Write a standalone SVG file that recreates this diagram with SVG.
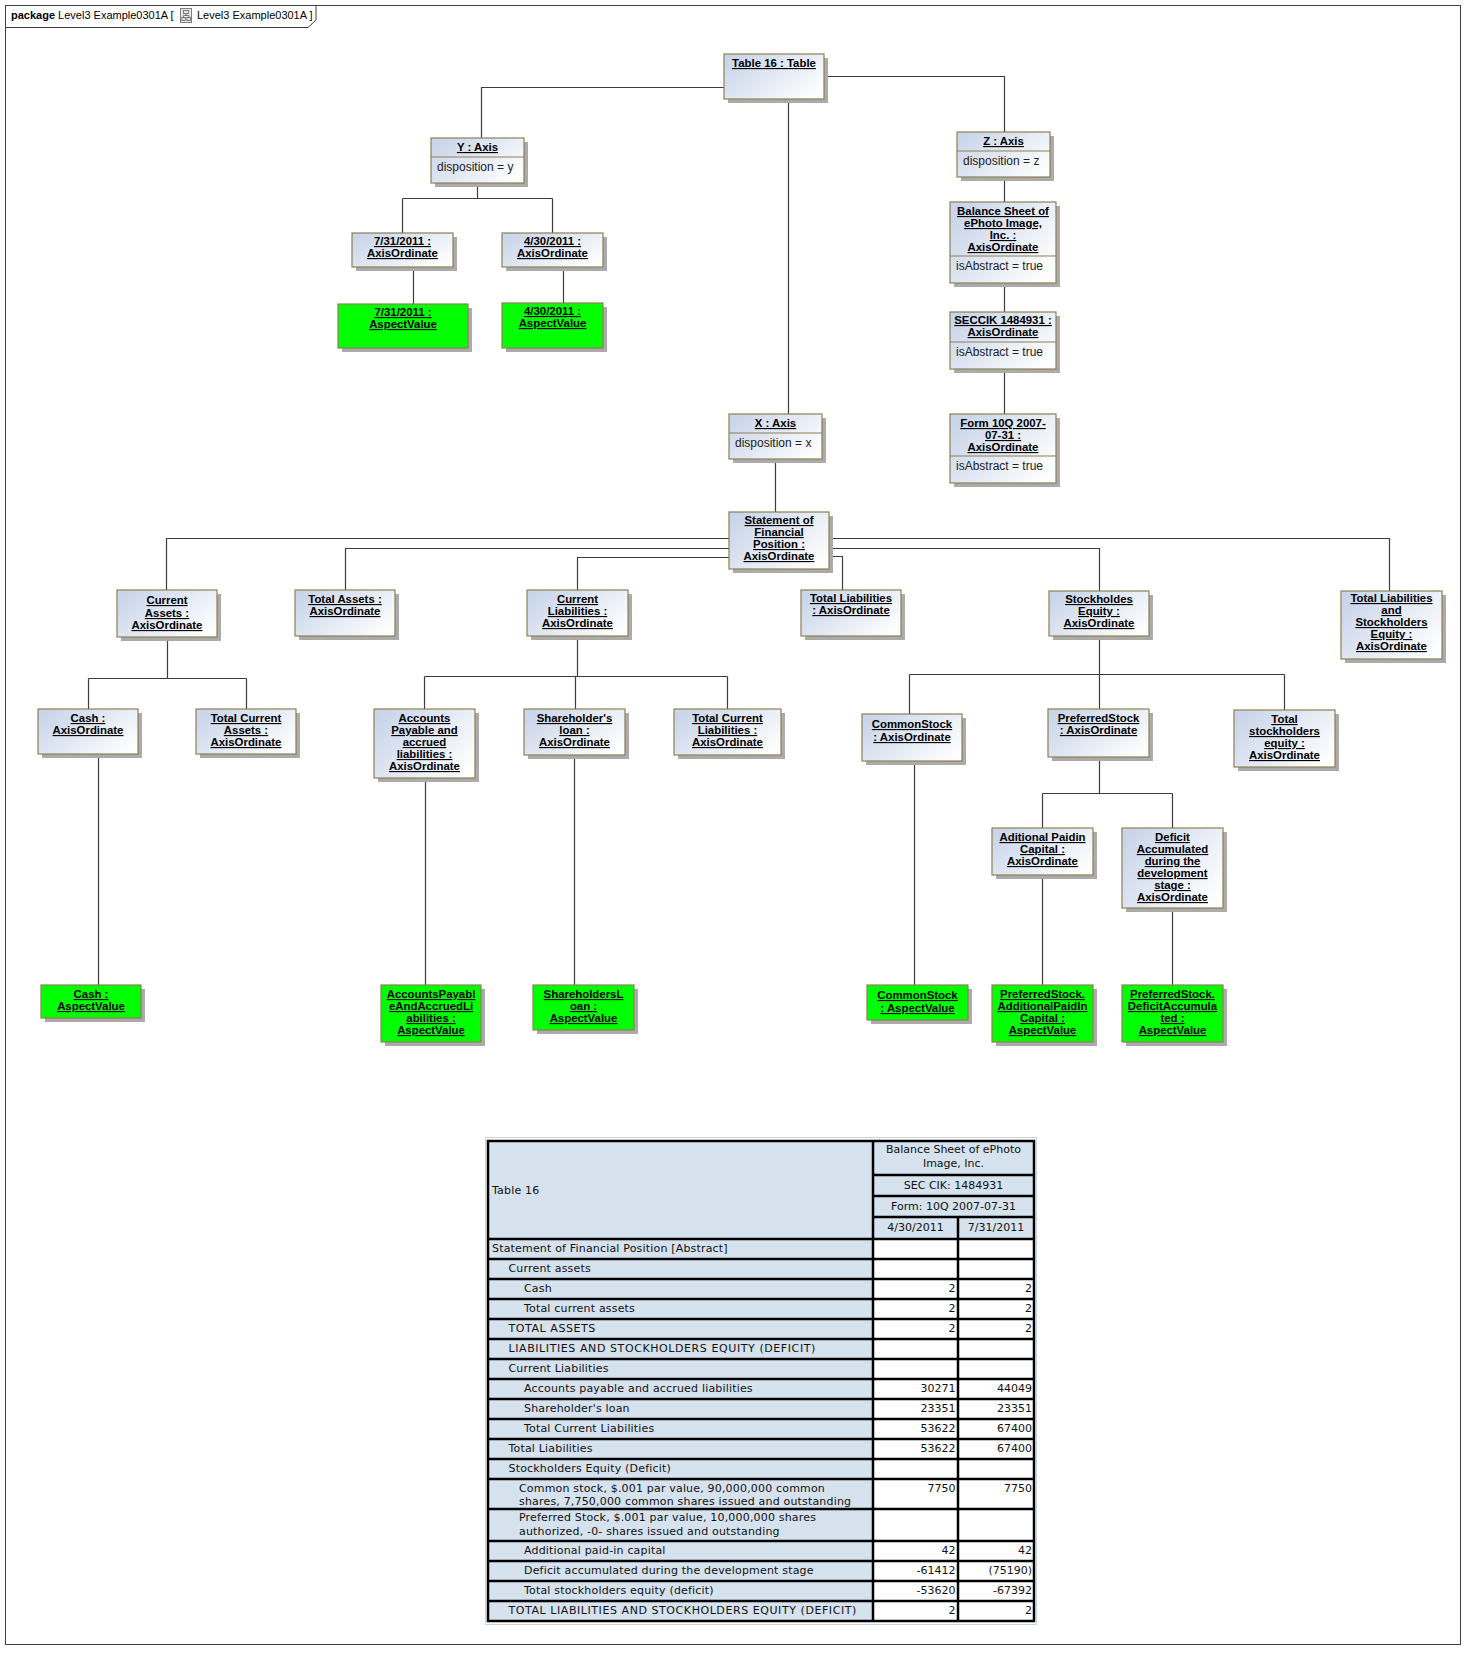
<svg xmlns="http://www.w3.org/2000/svg" width="1476" height="1660" viewBox="0 0 1476 1660">
<defs>
<linearGradient id="g" x1="0" y1="0.2" x2="1" y2="0.8">
<stop offset="0" stop-color="#C9D5EA"/>
<stop offset="1" stop-color="#FFFFFF"/>
</linearGradient>
<style>
.sh{fill:#ABABAB}
.bx{fill:url(#g);stroke:#8E8052;stroke-width:1.2}
.gr{fill:#00FF00;stroke:#8E8052;stroke-width:1.2}
.dv{stroke:#8E8052;stroke-width:1.2}
.t{font-family:"Liberation Sans",Arial,sans-serif;font-size:11.4px;font-weight:bold;text-decoration:underline;text-anchor:middle;fill:#000}
.a{font-family:"Liberation Sans",Arial,sans-serif;font-size:12px;fill:#222}
.c{fill:none;stroke:#3C3C3C;stroke-width:1.2}
.hd{font-family:"Liberation Sans",Arial,sans-serif;font-size:11px;fill:#000}
.tb{font-family:"DejaVu Sans",Verdana,sans-serif;font-size:11px;fill:#111;letter-spacing:0.18px}
.tn{font-family:"DejaVu Sans",Verdana,sans-serif;font-size:11px;fill:#111;text-anchor:end}
.tc{font-family:"DejaVu Sans",Verdana,sans-serif;font-size:11px;fill:#111;text-anchor:middle}
.lb{fill:#D6E2EE}
.wh{fill:#FFFFFF}
</style>
</defs>
<rect x="0" y="0" width="1476" height="1660" fill="#FFFFFF"/>

<!-- frame -->
<g id="frame">
<rect x="5.5" y="5.5" width="1455" height="1639" fill="none" stroke="#404040" stroke-width="1"/>
<path d="M5.5,27.5 H308 L316,20 V5.5" fill="none" stroke="#404040" stroke-width="1"/>
<text class="hd" x="11" y="19"><tspan font-weight="bold">package</tspan> Level3 Example0301A [</text>
<rect x="180.5" y="8.5" width="11" height="14" fill="#E8E8E8" stroke="#808080" stroke-width="1"/>
<rect x="183.5" y="10.5" width="5" height="3" fill="none" stroke="#606060" stroke-width="0.8"/>
<rect x="181.8" y="17.5" width="3.5" height="3" fill="none" stroke="#606060" stroke-width="0.8"/>
<rect x="187" y="17.5" width="3.5" height="3" fill="none" stroke="#606060" stroke-width="0.8"/>
<path d="M186,13.5 V15.5 M183.5,15.5 H189 M183.5,15.5 V17.5 M189,15.5 V17.5" stroke="#606060" stroke-width="0.8" fill="none"/>
<text class="hd" x="197" y="19">Level3 Example0301A ]</text>
</g>

<!-- connectors -->
<g id="connectors" class="c">
<path d="M724,87.5 H481.5 V138"/>
<path d="M824,76.5 H1004.5 V132"/>
<path d="M788.5,99 V414"/>
<path d="M477.5,183 V198.5 M402.5,198.5 H552.5 M402.5,198.5 V233 M552.5,198.5 V233"/>
<path d="M413.5,267 V304"/>
<path d="M563.5,267 V303"/>
<path d="M1004.5,177 V202 M1004.5,283 V312 M1004.5,369 V414"/>
<path d="M775.5,459 V512"/>
<path d="M729,538.5 H166.5 V590"/>
<path d="M729,548.5 H345.5 V590"/>
<path d="M729,557.5 H577.5 V590"/>
<path d="M829,538.5 H1389.5 V591"/>
<path d="M829,548.5 H1099.5 V591"/>
<path d="M829,556.5 H842.5 V590"/>
<path d="M167.5,637 V678.5 M88.5,678.5 H246.5 M88.5,678.5 V709 M246.5,678.5 V709"/>
<path d="M577.5,636 V676.5 M424.5,676.5 H727.5 M424.5,676.5 V709 M575.5,676.5 V709 M727.5,676.5 V709"/>
<path d="M1099.5,636 V674.5 M909.5,674.5 H1284.5 M909.5,674.5 V714 M1099.5,674.5 V709 M1284.5,674.5 V710"/>
<path d="M1099.5,757 V793.5 M1042.5,793.5 H1172.5 M1042.5,793.5 V828 M1172.5,793.5 V828"/>
<path d="M98.5,754 V985"/>
<path d="M425.5,778 V985"/>
<path d="M574.5,755 V985"/>
<path d="M914.5,761 V985"/>
<path d="M1042.5,875 V985"/>
<path d="M1172.5,908 V985"/>
</g>

<!-- nodes -->
<g id="table16">
<rect class="sh" x="728" y="58" width="100" height="45"/>
<rect class="bx" x="724" y="54" width="100" height="45"/>
<text class="t" x="774" y="67">Table 16 : Table</text>
</g>
<g id="yaxis">
<rect class="sh" x="435" y="142" width="93" height="45"/>
<rect class="bx" x="431" y="138" width="93" height="45"/>
<line class="dv" x1="431" y1="157" x2="524" y2="157"/>
<text class="t" x="477.5" y="151">Y : Axis</text>
<text class="a" x="437" y="171">disposition = y</text>
</g>
<g id="zaxis">
<rect class="sh" x="961" y="136" width="93" height="45"/>
<rect class="bx" x="957" y="132" width="93" height="45"/>
<line class="dv" x1="957" y1="151" x2="1050" y2="151"/>
<text class="t" x="1003.5" y="145">Z : Axis</text>
<text class="a" x="963" y="165">disposition = z</text>
</g>
<g id="xaxis">
<rect class="sh" x="733" y="418" width="93" height="45"/>
<rect class="bx" x="729" y="414" width="93" height="45"/>
<line class="dv" x1="729" y1="433" x2="822" y2="433"/>
<text class="t" x="775.5" y="427">X : Axis</text>
<text class="a" x="735" y="447">disposition = x</text>
</g>
<g id="balance">
<rect class="sh" x="954" y="206" width="106" height="81"/>
<rect class="bx" x="950" y="202" width="106" height="81"/>
<line class="dv" x1="950" y1="256" x2="1056" y2="256"/>
<text class="t" x="1003" y="215">Balance Sheet of</text>
<text class="t" x="1003" y="227">ePhoto Image,</text>
<text class="t" x="1003" y="239">Inc. :</text>
<text class="t" x="1003" y="251">AxisOrdinate</text>
<text class="a" x="956" y="270">isAbstract = true</text>
</g>
<g id="seccik">
<rect class="sh" x="954" y="316" width="106" height="57"/>
<rect class="bx" x="950" y="312" width="106" height="57"/>
<line class="dv" x1="950" y1="342" x2="1056" y2="342"/>
<text class="t" x="1003" y="324">SECCIK 1484931 :</text>
<text class="t" x="1003" y="336">AxisOrdinate</text>
<text class="a" x="956" y="356">isAbstract = true</text>
</g>
<g id="form">
<rect class="sh" x="954" y="418" width="106" height="69"/>
<rect class="bx" x="950" y="414" width="106" height="69"/>
<line class="dv" x1="950" y1="456" x2="1056" y2="456"/>
<text class="t" x="1003" y="427">Form 10Q 2007-</text>
<text class="t" x="1003" y="439">07-31 :</text>
<text class="t" x="1003" y="451">AxisOrdinate</text>
<text class="a" x="956" y="470">isAbstract = true</text>
</g>
<g id="ao-0731">
<rect class="sh" x="356" y="237" width="101" height="34"/>
<rect class="bx" x="352" y="233" width="101" height="34"/>
<text class="t" x="402.5" y="245">7/31/2011 :</text>
<text class="t" x="402.5" y="257">AxisOrdinate</text>
</g>
<g id="ao-0430">
<rect class="sh" x="506" y="237" width="101" height="34"/>
<rect class="bx" x="502" y="233" width="101" height="34"/>
<text class="t" x="552.5" y="245">4/30/2011 :</text>
<text class="t" x="552.5" y="257">AxisOrdinate</text>
</g>
<g id="av-0731">
<rect class="sh" x="342" y="308" width="130" height="44"/>
<rect class="gr" x="338" y="304" width="130" height="44"/>
<text class="t" x="403" y="316">7/31/2011 :</text>
<text class="t" x="403" y="328">AspectValue</text>
</g>
<g id="av-0430">
<rect class="sh" x="506" y="307" width="101" height="45"/>
<rect class="gr" x="502" y="303" width="101" height="45"/>
<text class="t" x="552.5" y="315">4/30/2011 :</text>
<text class="t" x="552.5" y="327">AspectValue</text>
</g>
<g id="stmt">
<rect class="sh" x="733" y="516" width="100" height="57"/>
<rect class="bx" x="729" y="512" width="100" height="57"/>
<text class="t" x="779" y="524">Statement of</text>
<text class="t" x="779" y="536">Financial</text>
<text class="t" x="779" y="548">Position :</text>
<text class="t" x="779" y="560">AxisOrdinate</text>
</g>
<g id="curassets">
<rect class="sh" x="121" y="594" width="100" height="47"/>
<rect class="bx" x="117" y="590" width="100" height="47"/>
<text class="t" x="167" y="604">Current</text>
<text class="t" x="167" y="617">Assets :</text>
<text class="t" x="167" y="629">AxisOrdinate</text>
</g>
<g id="totassets">
<rect class="sh" x="299" y="594" width="100" height="46"/>
<rect class="bx" x="295" y="590" width="100" height="46"/>
<text class="t" x="345" y="603">Total Assets :</text>
<text class="t" x="345" y="615">AxisOrdinate</text>
</g>
<g id="curliab">
<rect class="sh" x="531" y="594" width="101" height="46"/>
<rect class="bx" x="527" y="590" width="101" height="46"/>
<text class="t" x="577.5" y="603">Current</text>
<text class="t" x="577.5" y="615">Liabilities :</text>
<text class="t" x="577.5" y="627">AxisOrdinate</text>
</g>
<g id="totliab">
<rect class="sh" x="805" y="594" width="100" height="46"/>
<rect class="bx" x="801" y="590" width="100" height="46"/>
<text class="t" x="851" y="602">Total Liabilities</text>
<text class="t" x="851" y="614">: AxisOrdinate</text>
</g>
<g id="stockeq">
<rect class="sh" x="1053" y="595" width="100" height="45"/>
<rect class="bx" x="1049" y="591" width="100" height="45"/>
<text class="t" x="1099" y="603">Stockholdes</text>
<text class="t" x="1099" y="615">Equity :</text>
<text class="t" x="1099" y="627">AxisOrdinate</text>
</g>
<g id="tlse">
<rect class="sh" x="1345" y="595" width="101" height="68"/>
<rect class="bx" x="1341" y="591" width="101" height="68"/>
<text class="t" x="1391.5" y="602">Total Liabilities</text>
<text class="t" x="1391.5" y="614">and</text>
<text class="t" x="1391.5" y="626">Stockholders</text>
<text class="t" x="1391.5" y="638">Equity :</text>
<text class="t" x="1391.5" y="650">AxisOrdinate</text>
</g>
<g id="cash">
<rect class="sh" x="42" y="713" width="100" height="45"/>
<rect class="bx" x="38" y="709" width="100" height="45"/>
<text class="t" x="88" y="722">Cash :</text>
<text class="t" x="88" y="734">AxisOrdinate</text>
</g>
<g id="totcurassets">
<rect class="sh" x="200" y="713" width="100" height="45"/>
<rect class="bx" x="196" y="709" width="100" height="45"/>
<text class="t" x="246" y="722">Total Current</text>
<text class="t" x="246" y="734">Assets :</text>
<text class="t" x="246" y="746">AxisOrdinate</text>
</g>
<g id="accpay">
<rect class="sh" x="378" y="713" width="101" height="69"/>
<rect class="bx" x="374" y="709" width="101" height="69"/>
<text class="t" x="424.5" y="722">Accounts</text>
<text class="t" x="424.5" y="734">Payable and</text>
<text class="t" x="424.5" y="746">accrued</text>
<text class="t" x="424.5" y="758">liabilities :</text>
<text class="t" x="424.5" y="770">AxisOrdinate</text>
</g>
<g id="shloan">
<rect class="sh" x="528" y="713" width="101" height="46"/>
<rect class="bx" x="524" y="709" width="101" height="46"/>
<text class="t" x="574.5" y="722">Shareholder's</text>
<text class="t" x="574.5" y="734">loan :</text>
<text class="t" x="574.5" y="746">AxisOrdinate</text>
</g>
<g id="totcurliab">
<rect class="sh" x="678" y="713" width="107" height="46"/>
<rect class="bx" x="674" y="709" width="107" height="46"/>
<text class="t" x="727.5" y="722">Total Current</text>
<text class="t" x="727.5" y="734">Liabilities :</text>
<text class="t" x="727.5" y="746">AxisOrdinate</text>
</g>
<g id="commonao">
<rect class="sh" x="866" y="718" width="100" height="47"/>
<rect class="bx" x="862" y="714" width="100" height="47"/>
<text class="t" x="912" y="728">CommonStock</text>
<text class="t" x="912" y="741">: AxisOrdinate</text>
</g>
<g id="prefao">
<rect class="sh" x="1052" y="713" width="101" height="48"/>
<rect class="bx" x="1048" y="709" width="101" height="48"/>
<text class="t" x="1098.5" y="722">PreferredStock</text>
<text class="t" x="1098.5" y="734">: AxisOrdinate</text>
</g>
<g id="totse">
<rect class="sh" x="1238" y="714" width="101" height="57"/>
<rect class="bx" x="1234" y="710" width="101" height="57"/>
<text class="t" x="1284.5" y="723">Total</text>
<text class="t" x="1284.5" y="735">stockholders</text>
<text class="t" x="1284.5" y="747">equity :</text>
<text class="t" x="1284.5" y="759">AxisOrdinate</text>
</g>
<g id="addpaid">
<rect class="sh" x="996" y="832" width="101" height="47"/>
<rect class="bx" x="992" y="828" width="101" height="47"/>
<text class="t" x="1042.5" y="841">Aditional Paidin</text>
<text class="t" x="1042.5" y="853">Capital :</text>
<text class="t" x="1042.5" y="865">AxisOrdinate</text>
</g>
<g id="deficit">
<rect class="sh" x="1126" y="832" width="101" height="80"/>
<rect class="bx" x="1122" y="828" width="101" height="80"/>
<text class="t" x="1172.5" y="841">Deficit</text>
<text class="t" x="1172.5" y="853">Accumulated</text>
<text class="t" x="1172.5" y="865">during the</text>
<text class="t" x="1172.5" y="877">development</text>
<text class="t" x="1172.5" y="889">stage :</text>
<text class="t" x="1172.5" y="901">AxisOrdinate</text>
</g>
<g id="cashav">
<rect class="sh" x="45" y="989" width="100" height="33"/>
<rect class="gr" x="41" y="985" width="100" height="33"/>
<text class="t" x="91" y="998">Cash :</text>
<text class="t" x="91" y="1010">AspectValue</text>
</g>
<g id="accpayav">
<rect class="sh" x="385" y="989" width="100" height="57"/>
<rect class="gr" x="381" y="985" width="100" height="57"/>
<text class="t" x="431" y="998">AccountsPayabl</text>
<text class="t" x="431" y="1010">eAndAccruedLi</text>
<text class="t" x="431" y="1022">abilities :</text>
<text class="t" x="431" y="1034">AspectValue</text>
</g>
<g id="shloanav">
<rect class="sh" x="537" y="989" width="101" height="45"/>
<rect class="gr" x="533" y="985" width="101" height="45"/>
<text class="t" x="583.5" y="998">ShareholdersL</text>
<text class="t" x="583.5" y="1010">oan :</text>
<text class="t" x="583.5" y="1022">AspectValue</text>
</g>
<g id="commonav">
<rect class="sh" x="871" y="989" width="101" height="35"/>
<rect class="gr" x="867" y="985" width="101" height="35"/>
<text class="t" x="917.5" y="999">CommonStock</text>
<text class="t" x="917.5" y="1012">: AspectValue</text>
</g>
<g id="addpaidav">
<rect class="sh" x="996" y="989" width="101" height="57"/>
<rect class="gr" x="992" y="985" width="101" height="57"/>
<text class="t" x="1042.5" y="998">PreferredStock.</text>
<text class="t" x="1042.5" y="1010">AdditionalPaidIn</text>
<text class="t" x="1042.5" y="1022">Capital :</text>
<text class="t" x="1042.5" y="1034">AspectValue</text>
</g>
<g id="deficitav">
<rect class="sh" x="1126" y="989" width="101" height="57"/>
<rect class="gr" x="1122" y="985" width="101" height="57"/>
<text class="t" x="1172.5" y="998">PreferredStock.</text>
<text class="t" x="1172.5" y="1010">DeficitAccumula</text>
<text class="t" x="1172.5" y="1022">ted :</text>
<text class="t" x="1172.5" y="1034">AspectValue</text>
</g>

<!-- table -->
<g id="table">
<rect x="485.5" y="1137.5" width="551" height="487" fill="none" stroke="#C8D4E0" stroke-width="1"/>
<rect class="lb" x="488" y="1141" width="385" height="480"/>
<rect class="lb" x="873" y="1141" width="161" height="98"/>
<rect class="wh" x="873" y="1239" width="161" height="382"/>
<path d="M488,1141 H1034 V1621 H488 Z M873,1141 V1621 M958,1217 V1621 M873,1175 H1034 M873,1196 H1034 M873,1217 H1034 M488,1239 H1034 M488,1259 H1034 M488,1279 H1034 M488,1299 H1034 M488,1319 H1034 M488,1339 H1034 M488,1359 H1034 M488,1379 H1034 M488,1399 H1034 M488,1419 H1034 M488,1439 H1034 M488,1459 H1034 M488,1479 H1034 M488,1509 H1034 M488,1541 H1034 M488,1561 H1034 M488,1581 H1034 M488,1601 H1034" fill="none" stroke="#000" stroke-width="2.5"/>
<text class="tc" x="953.5" y="1153">Balance Sheet of ePhoto</text>
<text class="tc" x="953.5" y="1167">Image, Inc.</text>
<text class="tc" x="953.5" y="1189">SEC CIK: 1484931</text>
<text class="tc" x="953.5" y="1210">Form: 10Q 2007-07-31</text>
<text class="tc" x="915.5" y="1231">4/30/2011</text>
<text class="tc" x="996" y="1231">7/31/2011</text>
<text class="tb" x="492" y="1194">Table 16</text>
<text class="tb" x="492" y="1251.5">Statement of Financial Position [Abstract]</text>
<text class="tb" x="508.5" y="1271.5">Current assets</text>
<text class="tb" x="524" y="1291.5">Cash</text>
<text class="tb" x="524" y="1311.5">Total current assets</text>
<text class="tb" x="508.5" y="1331.5" textLength="87" lengthAdjust="spacing">TOTAL ASSETS</text>
<text class="tb" x="508.5" y="1351.5" textLength="307" lengthAdjust="spacing">LIABILITIES AND STOCKHOLDERS EQUITY (DEFICIT)</text>
<text class="tb" x="508.5" y="1371.5">Current Liabilities</text>
<text class="tb" x="524" y="1391.5">Accounts payable and accrued liabilities</text>
<text class="tb" x="524" y="1411.5">Shareholder's loan</text>
<text class="tb" x="524" y="1431.5">Total Current Liabilities</text>
<text class="tb" x="508.5" y="1451.5">Total Liabilities</text>
<text class="tb" x="508.5" y="1471.5">Stockholders Equity (Deficit)</text>
<text class="tb" x="519" y="1491.5">Common stock, $.001 par value, 90,000,000 common</text>
<text class="tb" x="519" y="1505">shares, 7,750,000 common shares issued and outstanding</text>
<text class="tb" x="519" y="1521">Preferred Stock, $.001 par value, 10,000,000 shares</text>
<text class="tb" x="519" y="1535">authorized, -0- shares issued and outstanding</text>
<text class="tb" x="524" y="1553.5">Additional paid-in capital</text>
<text class="tb" x="524" y="1573.5">Deficit accumulated during the development stage</text>
<text class="tb" x="524" y="1593.5">Total stockholders equity (deficit)</text>
<text class="tb" x="508.5" y="1613.5" textLength="348" lengthAdjust="spacing">TOTAL LIABILITIES AND STOCKHOLDERS EQUITY (DEFICIT)</text>
<text class="tn" x="955.5" y="1291.5">2</text><text class="tn" x="1032" y="1291.5">2</text>
<text class="tn" x="955.5" y="1311.5">2</text><text class="tn" x="1032" y="1311.5">2</text>
<text class="tn" x="955.5" y="1331.5">2</text><text class="tn" x="1032" y="1331.5">2</text>
<text class="tn" x="955.5" y="1391.5">30271</text><text class="tn" x="1032" y="1391.5">44049</text>
<text class="tn" x="955.5" y="1411.5">23351</text><text class="tn" x="1032" y="1411.5">23351</text>
<text class="tn" x="955.5" y="1431.5">53622</text><text class="tn" x="1032" y="1431.5">67400</text>
<text class="tn" x="955.5" y="1451.5">53622</text><text class="tn" x="1032" y="1451.5">67400</text>
<text class="tn" x="955.5" y="1491.5">7750</text><text class="tn" x="1032" y="1491.5">7750</text>
<text class="tn" x="955.5" y="1553.5">42</text><text class="tn" x="1032" y="1553.5">42</text>
<text class="tn" x="955.5" y="1573.5">-61412</text><text class="tn" x="1032" y="1573.5">(75190)</text>
<text class="tn" x="955.5" y="1593.5">-53620</text><text class="tn" x="1032" y="1593.5">-67392</text>
<text class="tn" x="955.5" y="1613.5">2</text><text class="tn" x="1032" y="1613.5">2</text>
</g>
</svg>
